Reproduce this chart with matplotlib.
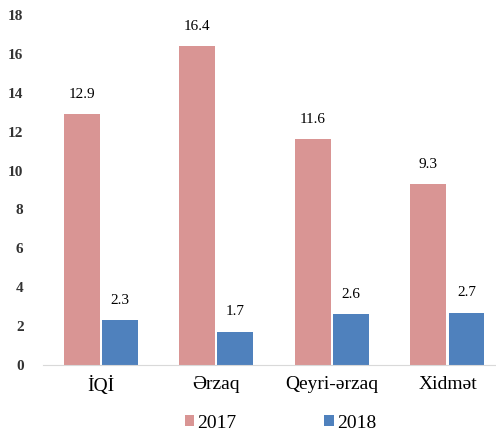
import matplotlib.pyplot as plt
import numpy as np

categories = ['İQİ', 'Ərzaq', 'Qeyri-ərzaq', 'Xidmət']
years = ['2017', '2018']
vals_2017 = [12.9, 16.4, 11.6, 9.3]
vals_2018 = [2.3, 1.7, 2.6, 2.7]

plt.rcParams['font.family'] = ['Liberation Serif', 'DejaVu Serif']

fig = plt.figure(figsize=(4.96, 4.36), dpi=100)
ax = fig.add_axes([43 / 496, 71 / 436, 1 - 43 / 496, 350 / 436])

x = np.arange(len(categories))
w = 0.31
b1 = ax.bar(x - w / 2 - 0.01, vals_2017, w, color='#D99594', label=years[0])
b2 = ax.bar(x + w / 2 + 0.01, vals_2018, w, color='#4F81BD', label=years[1])

for bars in (b1, b2):
    for r in bars:
        h = r.get_height()
        ax.text(r.get_x() + r.get_width() / 2, h + 0.7, f"{h:.1f}",
                ha='center', va='bottom', fontsize=11)

ax.set_xlim(-0.5, 3.42)
ax.set_ylim(0, 18)
ax.set_yticks(range(0, 19, 2))
ax.set_xticks(x)
ax.set_xticklabels(categories, fontsize=14)
ax.tick_params(axis='y', labelsize=11, length=0, pad=14)
ax.tick_params(axis='x', length=0, pad=8)
for lbl in ax.get_yticklabels():
    lbl.set_fontweight('bold')
    lbl.set_color('#333333')

for s in ['top', 'right', 'left']:
    ax.spines[s].set_visible(False)
ax.spines['bottom'].set_color('#d9d9d9')

fig.legend(loc='lower center', bbox_to_anchor=(0.565, -0.03), ncol=2,
           frameon=False, fontsize=14, handlelength=0.5, handleheight=0.5,
           handletextpad=0.15, columnspacing=4.5)

fig.savefig('out.png', dpi=100)
